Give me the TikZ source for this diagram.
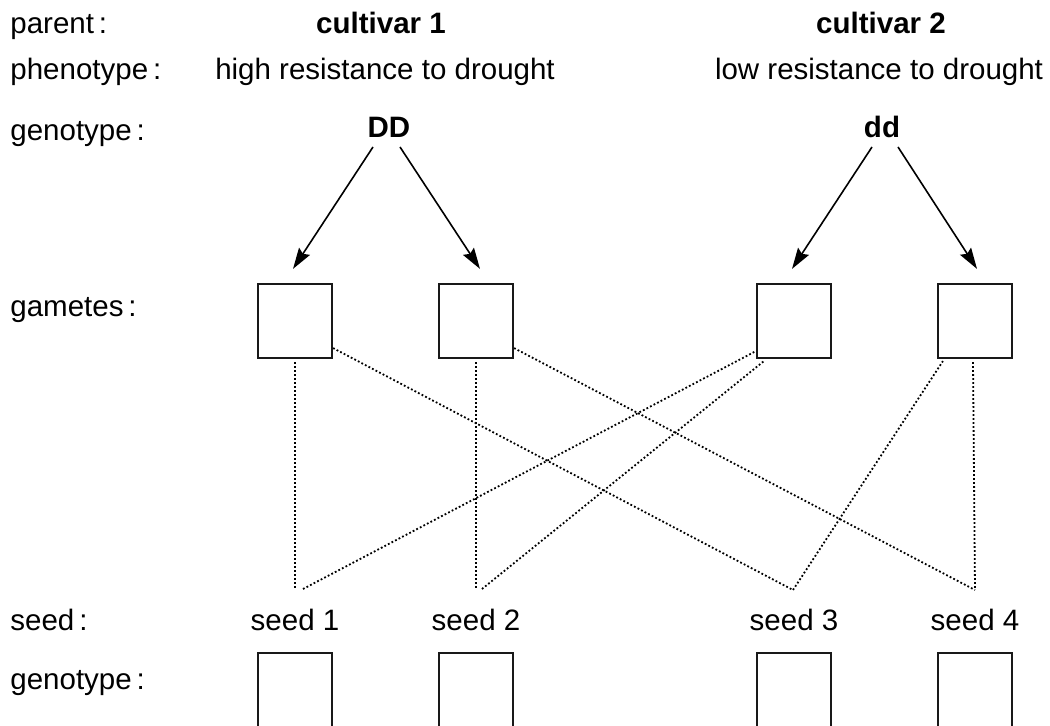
\documentclass[tikz,border=0pt]{standalone}
\usepackage{fontspec}
\setmainfont{Liberation Sans}
\usetikzlibrary{arrows.meta,calc}

\begin{document}
\begin{tikzpicture}[x=0.5pt, y=-0.5pt,
    every node/.style={font=\fontsize{14.75}{17}\selectfont, inner sep=0pt},
    rowlabel/.style={anchor=base west},
    collabel/.style={anchor=base},
    gamete/.style={draw=black!90, line width=1.1pt, minimum size=37pt},
    seedbox/.style={draw=black!90, line width=1.1pt, minimum width=37pt, minimum height=60pt, anchor=north},
    arr/.style={-{Stealth[length=10.5pt,width=6.5pt,inset=1.5pt]}, line width=0.8pt},
    cross/.style={line width=0.9pt, dash pattern=on 0.9pt off 1.1pt}]

  % Frame
  \path[use as bounding box, clip] (0,0) rectangle (1050,726);

  % Row labels
  \node[rowlabel] (lparent) at (10,34) {parent\,:};
  \node[rowlabel] (lpheno) at (10,80) {phenotype\,:};
  \node[rowlabel] (lgeno) at (10,141) {genotype\,:};
  \node[rowlabel] (lgamete) at (10,317) {gametes\,:};
  \node[rowlabel] (lseed) at (10,631) {seed\,:};
  \node[rowlabel] (lseedgeno) at (10,690) {genotype\,:};

  % Parents
  \node[collabel] (cult1) at (381,34) {\bfseries cultivar 1};
  \node[collabel] (cult2) at (881,34) {\bfseries cultivar 2};
  \node[collabel] (pheno1) at (385,80) {high resistance to drought};
  \node[collabel] (pheno2) at (879,80) {low resistance to drought};
  \node[collabel] (DD) at (389,138) {\bfseries DD};
  \node[collabel] (dd) at (882,138) {\bfseries dd};

  % Gametes, seeds and empty genotype boxes
  \foreach \i/\x in {1/295,2/476,3/794,4/975} {
    \node[gamete] (g\i) at (\x,321) {};
    \node[collabel] (s\i) at (\x,631) {seed \i};
    \node[seedbox] (b\i) at (\x,652) {};
  }

  % Meiosis
  \draw[arr] ($(DD.base)+(-16,9)$) -- ($(g1.north)+(-2,-14)$);
  \draw[arr] ($(DD.base)+(11,9)$) -- ($(g2.north)+(4,-14)$);
  \draw[arr] ($(dd.base)+(-10,9)$) -- ($(g3.north)+(-2,-14)$);
  \draw[arr] ($(dd.base)+(16,9)$) -- ($(g4.north)+(2,-14)$);

  % Fertilisation
  \coordinate (j1) at (303,589);
  \coordinate (j2) at (482,589);
  \coordinate (j3) at (793,590);
  \coordinate (j4) at (975,590);

  \draw[cross] ($(g1.south)+(0,3)$) -- (g1.south |- j1);
  \draw[cross] ($(g2.south)+(0,3)$) -- (g2.south |- j2);
  \draw[cross] ($(g4.south)+(-2,3)$) -- (j4);
  \draw[cross] ($(g1.south east)+(0,-11)$) -- (j3);
  \draw[cross] ($(g2.south east)+(0,-11)$) -- (j4);
  \draw[cross] (j1) -- ($(g3.south west)+(0,-8)$);
  \draw[cross] (j2) -- ($(g3.south west)+(8,2)$);
  \draw[cross] (j3) -- ($(g4.south west)+(6,2)$);

\end{tikzpicture}
\end{document}
